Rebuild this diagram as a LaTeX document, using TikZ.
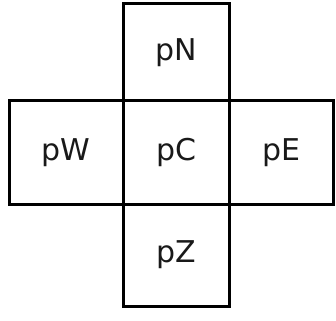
\documentclass[tikz,border=0pt]{standalone}
\usepackage{fontspec}
\setmainfont{DejaVu Sans}
\begin{document}
\begin{tikzpicture}[x=1pt,y=-1pt,
  box/.style={draw=black, line width=3pt},
  lbl/.style={inner sep=0pt, font=\fontsize{30}{36}\selectfont, text=black!90}]
\useasboundingbox (0,0) rectangle (336,320);
\draw[box] (123.5,4) rectangle (229.7,101);
\draw[box] (9,101) rectangle (123.5,204);
\draw[box] (229.7,101) rectangle (333.7,204);
\draw[box] (123.5,204) rectangle (229.7,306);
\draw[box] (123.5,101) rectangle (229.7,204);
\node[lbl] (pN) at (176.6,52.5) {pN};
\node[lbl] (pW) at (66.25,152.5) {pW};
\node[lbl] (pE) at (281.7,152.5) {pE};
\node[lbl] (pZ) at (176.6,255) {pZ};
\node[lbl] (pC) at (176.6,152.5) {pC};
\end{tikzpicture}
\end{document}
